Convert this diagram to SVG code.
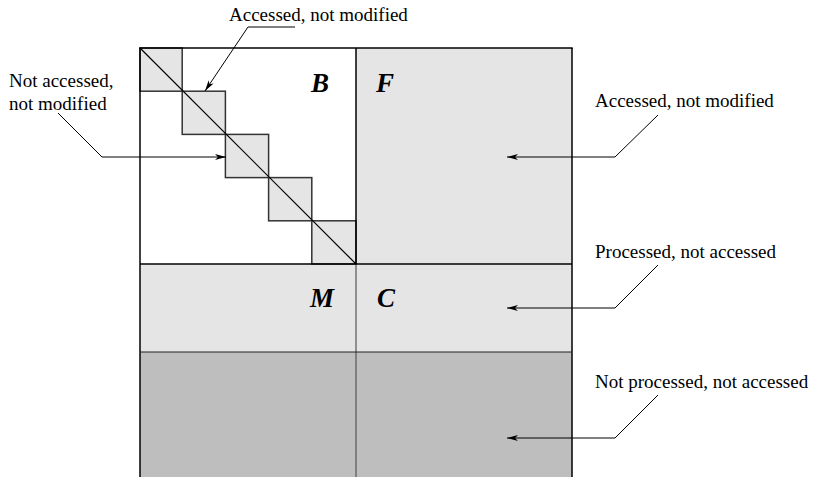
<svg xmlns="http://www.w3.org/2000/svg" width="815" height="477" viewBox="0 0 815 477">
<style>
.lbl{font-family:"Liberation Serif","Times New Roman",serif;font-size:19px;fill:#000}
.big{font-family:"Liberation Serif","Times New Roman",serif;font-weight:bold;font-style:italic;font-size:27px;fill:#000}
.lead{fill:none;stroke:#000;stroke-width:1}
.sq{fill:#e5e5e5;stroke:#333;stroke-width:1.5}
.edge{stroke:#000;stroke-width:1.5;fill:none}
</style>
<defs>
<marker id="ah" markerUnits="userSpaceOnUse" markerWidth="12" markerHeight="8" refX="11" refY="4" orient="auto">
<path d="M0,1 L11,4 L0,7 L3,4 z" fill="#000"/>
</marker>
</defs>
<rect width="815" height="477" fill="#fff"/>
<g id="region-F">
<rect x="356" y="48" width="216" height="216" fill="#e5e5e5"/>
</g>
<g id="region-MC">
<rect x="140" y="264" width="432" height="88" fill="#e5e5e5"/>
</g>
<g id="region-bottom">
<rect x="140" y="352" width="432" height="126" fill="#bebebe"/>
</g>
<g id="region-B">
<rect x="140" y="48" width="216" height="216" fill="#fff"/>
<rect class="sq" x="140" y="48" width="42.2" height="43.2"/>
<rect class="sq" x="182.2" y="91.2" width="43.2" height="43.2"/>
<rect class="sq" x="225.4" y="134.4" width="43.2" height="43.2"/>
<rect class="sq" x="268.6" y="177.6" width="43.2" height="43.2"/>
<rect class="sq" x="311.8" y="220.8" width="44.2" height="43.2"/>
<line x1="140" y1="48" x2="356" y2="264" stroke="#000" stroke-width="1.2"/>
</g>
<g id="frame">
<line class="edge" x1="140" y1="48" x2="140" y2="477"/>
<line class="edge" x1="572" y1="48" x2="572" y2="477"/>
<line class="edge" x1="139.25" y1="48" x2="572.75" y2="48"/>
<line class="edge" x1="356" y1="48" x2="356" y2="264"/>
<line x1="356" y1="264" x2="356" y2="477" stroke="#555" stroke-width="1.2"/>
<line class="edge" x1="140" y1="264" x2="572" y2="264"/>
<line x1="140" y1="352" x2="572" y2="352" stroke="#222" stroke-width="1.2"/>
</g>
<g id="letters">
<text class="big" x="311" y="92">B</text>
<text class="big" x="376" y="92">F</text>
<text class="big" x="310" y="307">M</text>
<text class="big" x="377" y="307">C</text>
</g>
<g id="label-top">
<text class="lbl" x="229" y="21">Accessed, not modified</text>
</g>
<g id="label-left">
<text class="lbl" x="9" y="87">Not accessed,</text>
<text class="lbl" x="9" y="110">not modified</text>
</g>
<g id="label-right1">
<text class="lbl" x="595" y="107">Accessed, not modified</text>
</g>
<g id="label-right2">
<text class="lbl" x="595" y="258">Processed, not accessed</text>
</g>
<g id="label-right3">
<text class="lbl" x="595" y="388">Not processed, not accessed</text>
</g>
<g id="connectors">
<path class="lead" d="M295,27 L248,27 L205,91" marker-end="url(#ah)"/>
<path class="lead" d="M58,113 L102,157 L226,157" marker-end="url(#ah)"/>
<path class="lead" d="M658,115 L615,157 L507,157" marker-end="url(#ah)"/>
<path class="lead" d="M658,265 L615,308 L507,308" marker-end="url(#ah)"/>
<path class="lead" d="M658,395 L615,438 L507,438" marker-end="url(#ah)"/>
</g>
</svg>
